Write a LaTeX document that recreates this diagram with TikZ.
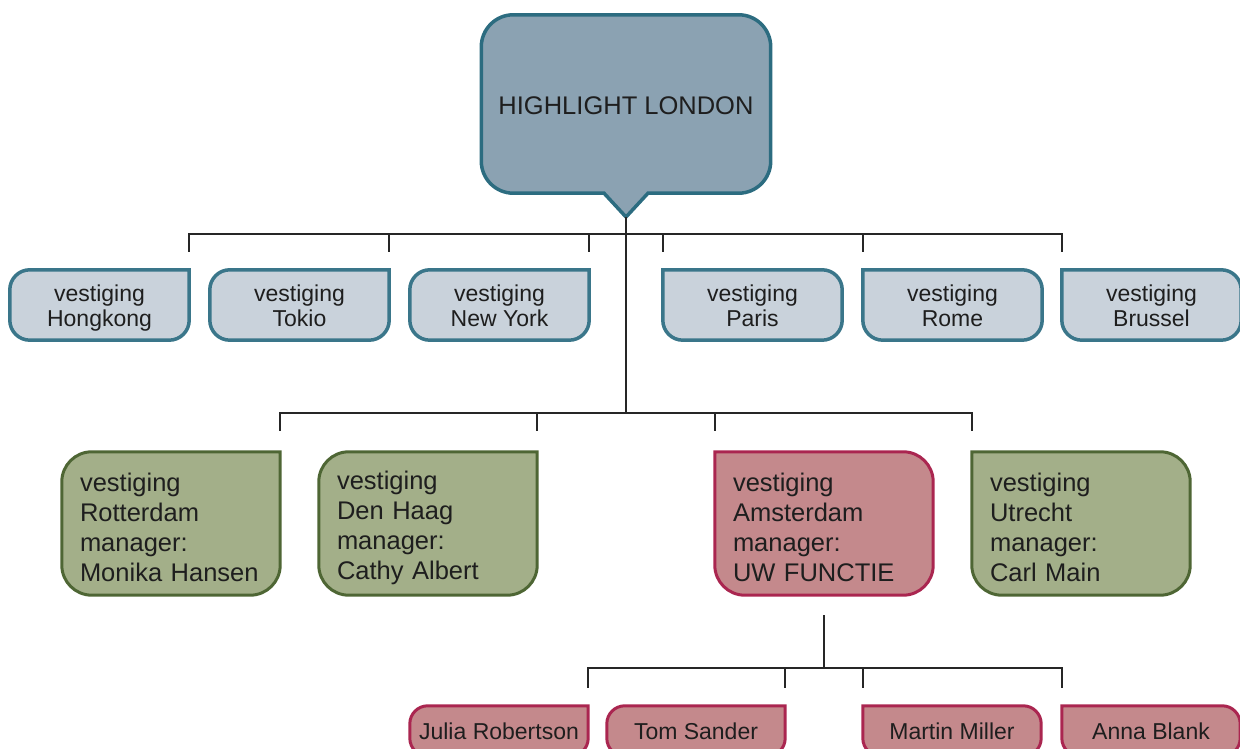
\documentclass[tikz,border=0pt]{standalone}
\usepackage{fontspec}
\setmainfont{Liberation Sans}
\usetikzlibrary{backgrounds}

\definecolor{hqfill}{RGB}{139,162,178}
\definecolor{hqline}{RGB}{44,108,128}
\definecolor{sitefill}{RGB}{201,210,219}
\definecolor{siteline}{RGB}{58,118,138}
\definecolor{branchfill}{RGB}{163,175,137}
\definecolor{branchline}{RGB}{78,102,52}
\definecolor{ownfill}{RGB}{196,137,140}
\definecolor{ownline}{RGB}{170,38,80}
\definecolor{ink}{RGB}{30,30,30}

% text set a little lower, box size unchanged
\newcommand\low[2][3pt]{\raisebox{-#1}[\height][\depth]{#2}}
% box with a square top right corner
\newcommand\tabne[3]{\filldraw[#2] (#1.north) -- (#1.north east) [rounded corners=#3] -- (#1.south east) -- (#1.south west) -- (#1.north west) -- cycle;}
% box with a square top left corner
\newcommand\tabnw[3]{\filldraw[#2, rounded corners=#3] (#1.north) -- (#1.north east) -- (#1.south east) -- (#1.south west) [sharp corners] -- (#1.north west) -- cycle;}

\begin{document}
\begin{tikzpicture}[x=1pt, y=1pt,
  hqtext/.style={minimum width=289, minimum height=178, inner sep=0, text=ink, font=\fontsize{25.5}{28}\selectfont},
  sitetext/.style={minimum width=179, minimum height=70, inner sep=0, align=center, text=ink, font=\fontsize{23}{25.5}\selectfont},
  branchtext/.style={minimum height=143, text width=182, inner xsep=18, inner ysep=0, align=left, text=ink, font=\fontsize{25.5}{30}\selectfont},
  stafftext/.style={minimum width=178, minimum height=50, inner sep=0, text=ink, font=\fontsize{23}{25}\selectfont},
  hqshape/.style={fill=hqfill, draw=hqline, line width=3.5pt},
  siteshape/.style={fill=sitefill, draw=siteline, line width=3.5pt},
  branchshape/.style={fill=branchfill, draw=branchline, line width=3pt},
  ownshape/.style={fill=ownfill, draw=ownline, line width=3pt},
  wire/.style={draw=black!85, line width=2pt}]
\useasboundingbox (0,0) rectangle (1240,749);

% head office
\node[hqtext] (hq) at (626,645) {\low[2pt]{HIGHLIGHT LONDON}};
\coordinate (tip) at (626,532);
\coordinate (hub) at (626,336);

% foreign offices
\node[sitetext] (hk) at (99.5,444) {\low{vestiging}\\\low{Hongkong}};
\node[sitetext] (tokio) at (299.5,444) {\low{vestiging}\\\low{Tokio\vphantom{g}}};
\node[sitetext] (ny) at (499.5,444) {\low{vestiging}\\\low{New York\vphantom{g}}};
\node[sitetext] (paris) at (752.5,444) {\low{vestiging}\\\low{Paris\vphantom{g}}};
\node[sitetext] (rome) at (952.5,444) {\low{vestiging}\\\low{Rome\vphantom{g}}};
\node[sitetext] (brussel) at (1151.5,444) {\low{vestiging}\\\low{Brussel\vphantom{g}}};

% dutch offices
\node[branchtext] (rdam) at (171,225.5) {\low[4pt]{vestiging}\\\low[4pt]{Rotterdam}\\\low[4pt]{manager:}\\\low[4pt]{Monika Hansen}};
\node[branchtext] (haag) at (428,225.5) {\low[4pt]{vestiging}\\\low[4pt]{Den Haag}\\\low[4pt]{manager:}\\\low[4pt]{Cathy Albert}};
\node[branchtext] (adam) at (824,225.5) {\low[4pt]{vestiging}\\\low[4pt]{Amsterdam}\\\low[4pt]{manager:}\\\low[4pt]{UW FUNCTIE}};
\node[branchtext] (utr) at (1081,225.5) {\low[4pt]{vestiging}\\\low[4pt]{Utrecht}\\\low[4pt]{manager:}\\\low[4pt]{Carl Main}};
\coordinate (drop) at ([yshift=-73pt]adam.south);

% staff Amsterdam
\node[stafftext] (julia) at (499,18) {Julia Robertson};
\node[stafftext] (tom) at (696,18) {Tom Sander};
\node[stafftext] (martin) at (952,18) {Martin Miller};
\node[stafftext] (anna) at (1151,18) {Anna Blank};

\begin{pgfonlayer}{background}
\filldraw[hqshape, rounded corners=32pt] (hq.north) -- (hq.north east) -- (hq.south east) [sharp corners] -- ([xshift=22pt]hq.south) -- (tip) -- ([xshift=-22pt]hq.south) [rounded corners=32pt] -- (hq.south west) -- (hq.north west) -- cycle;
\foreach \n in {hk,tokio,ny} {\tabne{\n}{siteshape}{20pt}}
\foreach \n in {paris,rome,brussel} {\tabnw{\n}{siteshape}{20pt}}
\foreach \n in {rdam,haag} {\tabne{\n}{branchshape}{30pt}}
\tabnw{adam}{ownshape}{30pt}
\tabnw{utr}{branchshape}{30pt}
\foreach \n in {julia,tom} {\tabne{\n}{ownshape}{18pt}}
\foreach \n in {martin,anna} {\tabnw{\n}{ownshape}{18pt}}
\end{pgfonlayer}

% connectors
\draw[wire] (tip) -- (hub);
\draw[wire] ([yshift=18pt]hk.north east) -- ([yshift=36pt]hk.north east) -- ([yshift=36pt]brussel.north west) -- ([yshift=18pt]brussel.north west);
\foreach \n/\a in {tokio/north east, ny/north east, paris/north west, rome/north west}
  \draw[wire] ([yshift=18pt]\n.\a) -- ([yshift=36pt]\n.\a);
\draw[wire] ([yshift=21pt]rdam.north east) -- ([yshift=39pt]rdam.north east) -- ([yshift=39pt]utr.north west) -- ([yshift=21pt]utr.north west);
\foreach \n/\a in {haag/north east, adam/north west}
  \draw[wire] ([yshift=21pt]\n.\a) -- ([yshift=39pt]\n.\a);
\draw[wire] ([yshift=-20pt]adam.south) -- (drop);
\draw[wire] ([yshift=18pt]julia.north east) -- ([yshift=38pt]julia.north east) -- ([yshift=38pt]anna.north west) -- ([yshift=18pt]anna.north west);
\foreach \n/\a in {tom/north east, martin/north west}
  \draw[wire] ([yshift=18pt]\n.\a) -- ([yshift=38pt]\n.\a);
\end{tikzpicture}
\end{document}
